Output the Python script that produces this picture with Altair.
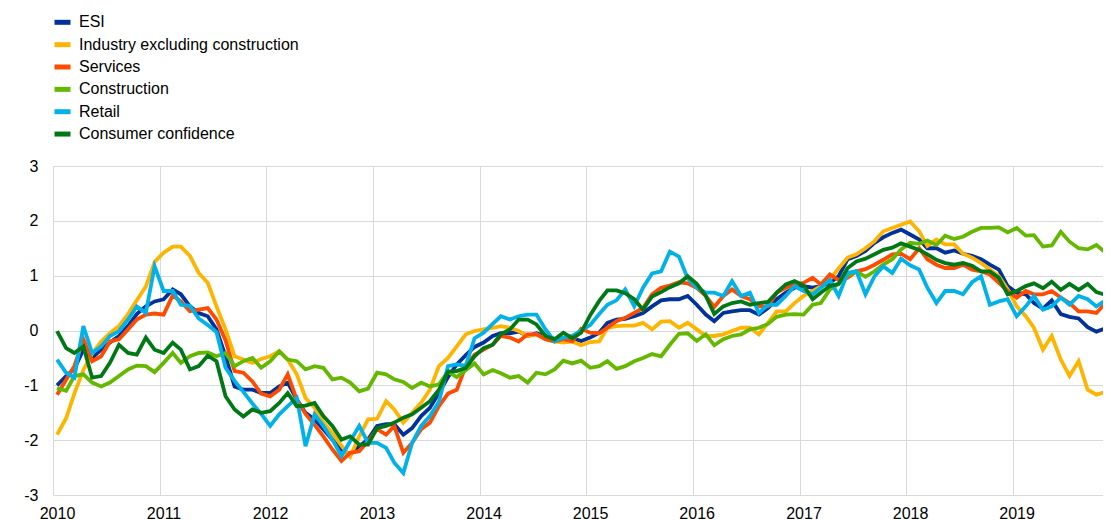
import altair as alt
import pandas as pd

series_names = ["ESI", "Industry excluding construction", "Services", "Construction",
                "Retail", "Consumer confidence"]
colors = ["#003299", "#FFB400", "#FF4B00", "#65B800", "#00B1EA", "#007816"]

esi = [-1.0, -0.83, -0.7, -0.35, -0.5, -0.35, -0.22, -0.1, 0.08, 0.3, 0.44, 0.53,
       0.57, 0.75, 0.66, 0.44, 0.32, 0.26, 0.02, -0.47, -1.02, -1.08, -1.08, -1.14,
       -1.14, -1.02, -0.95, -1.26, -1.5, -1.62, -1.8, -1.99, -2.17, -2.26, -2.11, -1.99,
       -1.74, -1.71, -1.71, -1.9, -1.78, -1.56, -1.41, -1.14, -0.85, -0.62, -0.45, -0.3,
       -0.22, -0.1, -0.05, -0.05, -0.02, -0.1, -0.05, -0.1, -0.15, -0.2, -0.15, -0.19,
       -0.13, -0.04, 0.14, 0.2, 0.21, 0.26, 0.32, 0.44, 0.55, 0.57, 0.57, 0.63,
       0.47, 0.29, 0.17, 0.32, 0.35, 0.37, 0.37, 0.29, 0.41, 0.57, 0.69, 0.78,
       0.81, 0.78, 0.81, 0.87, 0.99, 1.3, 1.36, 1.45, 1.6, 1.7, 1.78, 1.84,
       1.75, 1.66, 1.5, 1.5, 1.42, 1.46, 1.4, 1.36, 1.3, 1.2, 1.11, 0.81,
       0.69, 0.66, 0.5, 0.4, 0.55, 0.3, 0.25, 0.22, 0.06, -0.02, 0.04]

industry = [-1.9, -1.6, -1.15, -0.72, -0.42, -0.2, -0.05, 0.08, 0.3, 0.55, 0.8, 1.25,
            1.42, 1.53, 1.53, 1.36, 1.05, 0.87, 0.44, 0.02, -0.47, -0.53, -0.59, -0.52,
            -0.47, -0.38, -0.53, -0.8, -1.23, -1.41, -1.68, -1.87, -2.1, -2.3, -1.93, -1.62,
            -1.61, -1.29, -1.44, -1.68, -1.5, -1.32, -1.08, -0.65, -0.5, -0.29, -0.07, -0.01,
            0.02, 0.05, 0.08, 0.05, -0.01, -0.1, -0.07, -0.16, -0.2, -0.22, -0.2, -0.27,
            -0.21, -0.2, 0.05, 0.08, 0.09, 0.09, 0.14, 0.02, 0.16, 0.17, 0.05, 0.14,
            0.02, -0.1, -0.1, -0.07, -0.01, 0.05, 0.05, -0.07, 0.14, 0.35, 0.35, 0.5,
            0.63, 0.72, 0.81, 0.93, 1.13, 1.33, 1.39, 1.5, 1.63, 1.81, 1.87, 1.93,
            1.99, 1.81, 1.54, 1.66, 1.57, 1.57, 1.4, 1.33, 1.23, 1.11, 0.99, 0.75,
            0.44, 0.26, 0.05, -0.35, -0.1, -0.53, -0.83, -0.56, -1.08, -1.17, -1.12]

services = [-1.17, -0.9, -0.65, -0.16, -0.56, -0.47, -0.2, -0.16, 0.02, 0.2, 0.29, 0.31,
            0.29, 0.64, 0.53, 0.35, 0.38, 0.41, 0.2, -0.18, -0.74, -0.77, -0.93, -1.15,
            -1.2, -1.08, -0.8, -1.26, -1.52, -1.72, -1.93, -2.17, -2.38, -2.23, -2.2, -2.02,
            -1.8, -1.9, -1.74, -2.23, -2.05, -1.8, -1.68, -1.38, -1.15, -1.08, -0.65, -0.44,
            -0.35, -0.26, -0.1, -0.13, -0.2, -0.07, -0.07, -0.16, -0.2, -0.16, -0.2, 0.03,
            -0.04, -0.05, 0.05, 0.17, 0.23, 0.32, 0.41, 0.66, 0.78, 0.82, 0.88, 0.86,
            0.78, 0.63, 0.43, 0.63, 0.75, 0.63, 0.57, 0.44, 0.44, 0.69, 0.78, 0.84,
            0.87, 0.96, 0.84, 1.02, 0.92, 0.96, 1.08, 1.12, 1.2, 1.29, 1.39, 1.4,
            1.3, 1.5, 1.3, 1.2, 1.14, 1.14, 1.2, 1.11, 1.08, 1.02, 0.87, 0.72,
            0.6, 0.72, 0.66, 0.66, 0.72, 0.6, 0.5, 0.35, 0.35, 0.32, 0.5]

construction = [-1.05, -1.1, -0.83, -0.8, -0.95, -1.02, -0.95, -0.83, -0.71, -0.64, -0.65, -0.76,
                -0.59, -0.41, -0.59, -0.47, -0.41, -0.4, -0.47, -0.41, -0.65, -0.56, -0.5, -0.68,
                -0.56, -0.38, -0.53, -0.56, -0.71, -0.65, -0.68, -0.89, -0.86, -0.95, -1.11, -1.06,
                -0.77, -0.8, -0.89, -0.94, -1.05, -0.95, -1.02, -0.98, -0.75, -0.85, -0.72, -0.6,
                -0.8, -0.72, -0.78, -0.86, -0.83, -0.95, -0.77, -0.8, -0.71, -0.55, -0.6, -0.55,
                -0.68, -0.65, -0.56, -0.7, -0.65, -0.56, -0.5, -0.43, -0.47, -0.26, -0.06, -0.05,
                -0.19, -0.07, -0.27, -0.16, -0.1, -0.07, 0.02, 0.05, 0.12, 0.25, 0.29, 0.3,
                0.29, 0.47, 0.5, 0.75, 0.85, 1.0, 1.08, 0.98, 1.08, 1.2, 1.3, 1.48,
                1.6, 1.58, 1.64, 1.56, 1.73, 1.67, 1.71, 1.8, 1.87, 1.87, 1.88, 1.79,
                1.87, 1.73, 1.74, 1.53, 1.55, 1.8, 1.62, 1.5, 1.48, 1.56, 1.42]

retail = [-0.53, -0.77, -0.86, 0.08, -0.41, -0.29, -0.1, -0.01, 0.2, 0.44, 0.32, 1.17,
          0.72, 0.72, 0.47, 0.45, 0.22, 0.1, -0.03, -0.68, -0.92, -1.12, -1.33, -1.52,
          -1.74, -1.53, -1.38, -1.23, -2.11, -1.53, -1.74, -1.99, -2.29, -2.02, -1.74, -2.05,
          -2.05, -2.14, -2.41, -2.6, -2.05, -1.74, -1.56, -1.3, -0.65, -0.62, -0.64, -0.14,
          -0.04, 0.12, 0.26, 0.2, 0.26, 0.29, 0.29, 0.02, -0.2, -0.13, -0.1, 0.0,
          0.1, 0.3, 0.47, 0.55, 0.75, 0.44, 0.78, 1.04, 1.08, 1.44, 1.35, 0.95,
          0.78, 0.69, 0.69, 0.63, 0.9, 0.63, 0.69, 0.32, 0.47, 0.47, 0.63, 0.81,
          0.72, 0.66, 0.78, 0.92, 0.63, 1.05, 1.08, 0.66, 0.99, 1.17, 1.05, 1.31,
          1.19, 1.11, 0.78, 0.5, 0.72, 0.72, 0.66, 0.88, 0.99, 0.47, 0.53, 0.57,
          0.26, 0.44, 0.63, 0.38, 0.44, 0.6, 0.47, 0.63, 0.57, 0.44, 0.55]

consumer = [-0.01, -0.32, -0.41, -0.29, -0.86, -0.83, -0.59, -0.26, -0.41, -0.44, -0.13, -0.35,
            -0.41, -0.22, -0.35, -0.71, -0.65, -0.46, -0.56, -1.2, -1.44, -1.57, -1.44, -1.5,
            -1.47, -1.32, -1.14, -1.38, -1.37, -1.32, -1.56, -1.74, -1.99, -1.93, -2.08, -2.08,
            -1.78, -1.74, -1.68, -1.59, -1.53, -1.41, -1.29, -1.08, -0.75, -0.74, -0.68, -0.47,
            -0.32, -0.26, -0.07, 0.02, 0.2, 0.2, 0.11, -0.1, -0.16, -0.04, -0.14, -0.04,
            0.28, 0.54, 0.73, 0.73, 0.68, 0.57, 0.38, 0.62, 0.7, 0.79, 0.86, 0.99,
            0.85, 0.63, 0.3, 0.44, 0.5, 0.53, 0.47, 0.5, 0.52, 0.69, 0.84, 0.9,
            0.82, 0.57, 0.69, 0.81, 0.85, 1.14, 1.26, 1.31, 1.39, 1.47, 1.51, 1.59,
            1.53, 1.47, 1.39, 1.29, 1.23, 1.2, 1.23, 1.18, 1.08, 1.08, 0.96, 0.66,
            0.72, 0.81, 0.86, 0.77, 0.89, 0.74, 0.85, 0.74, 0.85, 0.7, 0.65]

months = [f"{y}-{m:02d}-15T00:00:00" for y in range(2010, 2020) for m in range(1, 13)]
all_series = [esi, industry, services, construction, retail, consumer]

rows = []
for name, vals in zip(series_names, all_series):
    for d, v in zip(months, vals):
        rows.append({"date": d, "value": v, "series": name})
df = pd.DataFrame(rows)

year_ticks = [alt.DateTime(year=y, month=1, date=1) for y in range(2010, 2020)]

x_enc = alt.X(
    "date:T",
    scale=alt.Scale(domain=[alt.DateTime(year=2010, month=1, date=1),
                            alt.DateTime(year=2019, month=11, date=6, hours=14)]),
    axis=alt.Axis(values=year_ticks, format="%Y", title=None, grid=True, domain=False,
                  ticks=False, labelPadding=10, labelOffset=4, labelFlush=False,
                  labelOverlap=False),
)
y_enc = alt.Y(
    "value:Q",
    scale=alt.Scale(domain=[-3, 3], nice=False, zero=False),
    axis=alt.Axis(values=[-3, -2, -1, 0, 1, 2, 3], title=None, grid=True, domain=False,
                  ticks=False, labelPadding=15, labelExpr="'' + datum.value"),
)
color_enc = alt.Color(
    "series:N",
    scale=alt.Scale(domain=series_names, range=colors),
    legend=alt.Legend(title=None, orient="none", legendX=-1, legendY=-154.2,
                      direction="vertical", symbolType="stroke", symbolSize=256,
                      symbolStrokeWidth=5, labelFontSize=16, labelFont="Arial",
                      labelColor="#000000", labelOffset=6, rowPadding=1.35,
                      padding=0, labelLimit=0),
)

layers = []
for name in series_names:
    layers.append(
        alt.Chart(df)
        .transform_filter(alt.datum.series == name)
        .mark_line(strokeWidth=3.8, clip=True)
        .encode(x=x_enc, y=y_enc, color=color_enc)
    )

chart = (
    alt.layer(*layers)
    .properties(width=1050, height=329,
                autosize=alt.AutoSizeParams(type="none"),
                padding={"left": 45, "top": 158, "right": 0, "bottom": 25})
    .configure_view(stroke=None)
    .configure_axis(gridColor="#d9d9d9", gridWidth=1, labelFont="Arial",
                    labelFontSize=16, labelColor="#000000")
)

chart.save("out.html", embed_options={"renderer": "svg", "actions": False})
